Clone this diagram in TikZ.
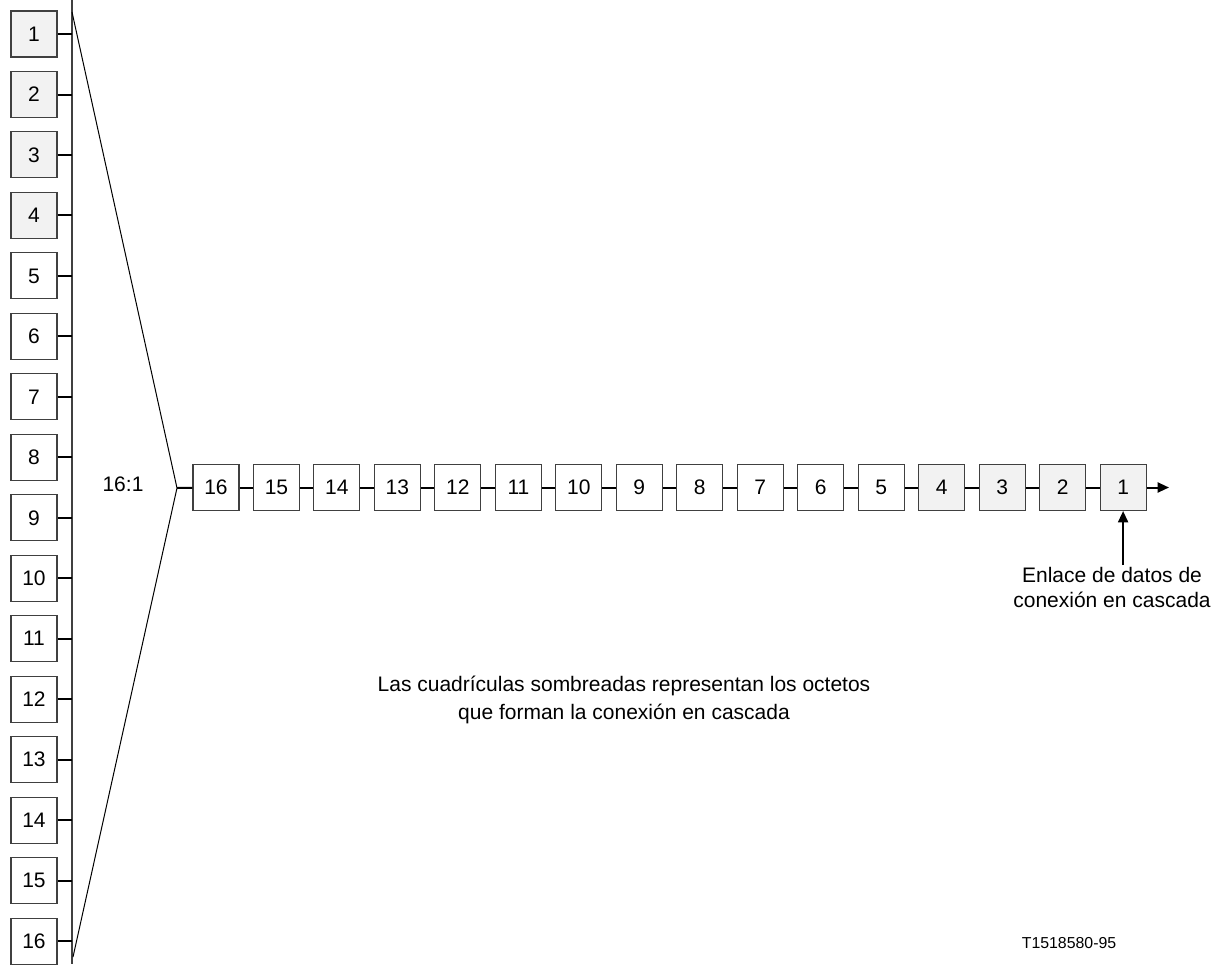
\documentclass[tikz,border=0pt]{standalone}
\usepackage{fontspec}
\setmainfont{Liberation Sans}
\usepackage{tikz}
\usetikzlibrary{arrows.meta}
\usepackage{xcolor}

\definecolor{octetfill}{HTML}{F2F2F2}
\definecolor{boxline}{HTML}{404040}

\tikzset{
  octet/.style={draw=boxline,line width=0.8pt,fill=white,minimum size=34.5pt,inner sep=0pt},
  shaded/.style={octet,fill=octetfill},
  stub/.style={line width=1.5pt},
  fan/.style={line width=0.75pt},
}

\begin{document}
\begin{tikzpicture}[x=0.75pt,y=-0.75pt,>={Triangle[length=8.5pt,width=7.5pt]},
  font=\fontsize{15.75}{18.75}\selectfont,line cap=butt]
\useasboundingbox (0,0) rectangle (1221,964);
% left column of octets
\node[shaded] (v1) at (34,34) {1};
\node[shaded] (v2) at (34,94.5) {2};
\node[shaded] (v3) at (34,154.9) {3};
\node[shaded] (v4) at (34,215.4) {4};
\node[octet] (v5) at (34,275.9) {5};
\node[octet] (v6) at (34,336.4) {6};
\node[octet] (v7) at (34,396.8) {7};
\node[octet] (v8) at (34,457.3) {8};
\node[octet] (v9) at (34,517.8) {9};
\node[octet] (v10) at (34,578.2) {10};
\node[octet] (v11) at (34,638.7) {11};
\node[octet] (v12) at (34,699.2) {12};
\node[octet] (v13) at (34,759.6) {13};
\node[octet] (v14) at (34,820.1) {14};
\node[octet] (v15) at (34,880.6) {15};
\node[octet] (v16) at (34,941.1) {16};
% bus
\coordinate (bustop) at (72,0);
\coordinate (busbot) at (72,964);
\draw[boxline,line width=1.1pt] (bustop) -- (busbot);
\draw[stub] (v1) -- (v1 -| bustop);
\draw[stub] (v2) -- (v2 -| bustop);
\draw[stub] (v3) -- (v3 -| bustop);
\draw[stub] (v4) -- (v4 -| bustop);
\draw[stub] (v5) -- (v5 -| bustop);
\draw[stub] (v6) -- (v6 -| bustop);
\draw[stub] (v7) -- (v7 -| bustop);
\draw[stub] (v8) -- (v8 -| bustop);
\draw[stub] (v9) -- (v9 -| bustop);
\draw[stub] (v10) -- (v10 -| bustop);
\draw[stub] (v11) -- (v11 -| bustop);
\draw[stub] (v12) -- (v12 -| bustop);
\draw[stub] (v13) -- (v13 -| bustop);
\draw[stub] (v14) -- (v14 -| bustop);
\draw[stub] (v15) -- (v15 -| bustop);
\draw[stub] (v16) -- (v16 -| bustop);
% 16:1 multiplexing fan
\coordinate (fantop) at (72,12);
\coordinate (fanbot) at (73,957);
\coordinate (apex) at (177,488);
\draw[fan] (fantop) -- (apex) -- (fanbot);
\node (ratio) at (123,484) {16:1};
% serial row of octets
\node[octet] (h16) at (216,487.5) {16};
\node[octet] (h15) at (276.5,487.5) {15};
\node[octet] (h14) at (336.9,487.5) {14};
\node[octet] (h13) at (397.4,487.5) {13};
\node[octet] (h12) at (457.9,487.5) {12};
\node[octet] (h11) at (518.4,487.5) {11};
\node[octet] (h10) at (578.8,487.5) {10};
\node[octet] (h9) at (639.3,487.5) {9};
\node[octet] (h8) at (699.8,487.5) {8};
\node[octet] (h7) at (760.2,487.5) {7};
\node[octet] (h6) at (820.7,487.5) {6};
\node[octet] (h5) at (881.2,487.5) {5};
\node[shaded] (h4) at (941.6,487.5) {4};
\node[shaded] (h3) at (1002.1,487.5) {3};
\node[shaded] (h2) at (1062.6,487.5) {2};
\node[shaded] (h1) at (1123.1,487.5) {1};
\draw[stub] (apex) -- (h16);
\draw[stub] (h16) -- (h15);
\draw[stub] (h15) -- (h14);
\draw[stub] (h14) -- (h13);
\draw[stub] (h13) -- (h12);
\draw[stub] (h12) -- (h11);
\draw[stub] (h11) -- (h10);
\draw[stub] (h10) -- (h9);
\draw[stub] (h9) -- (h8);
\draw[stub] (h8) -- (h7);
\draw[stub] (h7) -- (h6);
\draw[stub] (h6) -- (h5);
\draw[stub] (h5) -- (h4);
\draw[stub] (h4) -- (h3);
\draw[stub] (h3) -- (h2);
\draw[stub] (h2) -- (h1);
\coordinate (out) at (1169,487.5);
\draw[stub,->] (h1) -- (out);
% cascade link input
\coordinate (link) at (1123.1,565);
\draw[stub,->] (link) -- (h1);
\node[anchor=north,align=center,inner sep=0pt] (linklabel) at (1112,567)
  {Enlace de datos de\\conexión en cascada};
% notes
\node[align=center,font=\fontsize{15.75}{21}\selectfont] (note) at (624,700)
  {Las cuadrículas sombreadas representan los octetos\\que forman la conexión en cascada};
\node[font=\fontsize{11.9}{14}\selectfont] (ref) at (1069,943) {T1518580-95};
\end{tikzpicture}
\end{document}
